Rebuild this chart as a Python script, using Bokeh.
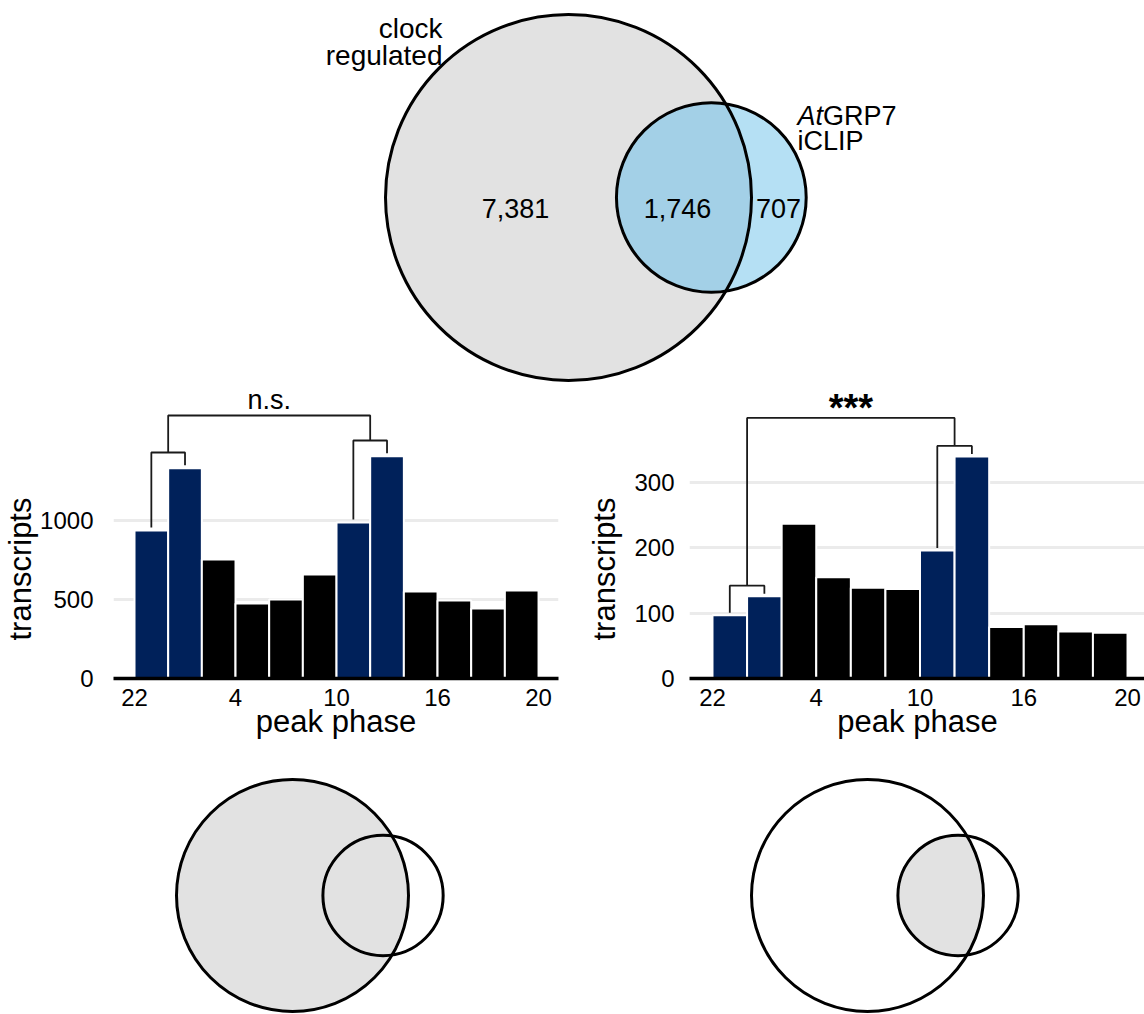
import numpy as np
from bokeh.plotting import figure
from bokeh.layouts import column, row
from bokeh.models import Range1d, FixedTicker, Title
from bokeh.core.properties import value
from bokeh.embed import file_html
from bokeh.resources import INLINE

FONT = "Liberation Sans"

# ---------------- data ----------------
venn_only_clock = 7381
venn_overlap = 1746
venn_only_iclip = 707

phase_bins = [22, 0, 2, 4, 6, 8, 10, 12, 14, 16, 18, 20]
clock_counts = [937, 1331, 753, 474, 500, 658, 987, 1407, 551, 494, 443, 557]
bound_counts = [97, 126, 237, 155, 139, 137, 196, 340, 79, 83, 72, 70]
highlight_bins = [22, 0, 10, 12]
xtick_edges = [0, 3, 6, 9, 12]
xtick_labels = ["22", "4", "10", "16", "20"]
clock_yticks = [0, 500, 1000]
bound_yticks = [0, 100, 200, 300]
clock_sig = "n.s."
bound_sig = "***"

NAVY = "#00215a"
GRAY = "#e2e2e2"
BLUE = "#b5e0f4"
BLUE_DARK = "#a3d0e7"


# ---------------- venn geometry ----------------
def lens_area(r1, r2, d):
    if d >= r1 + r2:
        return 0.0
    if d <= abs(r1 - r2):
        return np.pi * min(r1, r2) ** 2
    a1 = r1 ** 2 * np.arccos((d * d + r1 * r1 - r2 * r2) / (2 * d * r1))
    a2 = r2 ** 2 * np.arccos((d * d + r2 * r2 - r1 * r1) / (2 * d * r2))
    t = 0.5 * np.sqrt((-d + r1 + r2) * (d + r1 - r2) * (d - r1 + r2) * (d + r1 + r2))
    return a1 + a2 - t


def venn_geometry(k):
    n1 = venn_only_clock + venn_overlap
    n2 = venn_only_iclip + venn_overlap
    r1 = k * np.sqrt(n1)
    r2 = k * np.sqrt(n2)
    target = np.pi * k * k * venn_overlap
    lo, hi = abs(r1 - r2) + 1e-9, r1 + r2
    for _ in range(100):
        mid = 0.5 * (lo + hi)
        if lens_area(r1, r2, mid) > target:
            lo = mid
        else:
            hi = mid
    return r1, r2, 0.5 * (lo + hi)


def lens_patch(cx1, cy, r1, cx2, r2):
    d = cx2 - cx1
    a = (d * d + r1 * r1 - r2 * r2) / (2 * d)
    h = np.sqrt(r1 * r1 - a * a)
    t1 = np.arctan2(h, a)
    t2 = np.arctan2(h, d - a)
    th1 = np.linspace(-t1, t1, 160)
    th2 = np.linspace(np.pi - t2, np.pi + t2, 160)
    xs = np.concatenate([cx1 + r1 * np.cos(th1), cx2 + r2 * np.cos(th2)])
    ys = np.concatenate([cy + r1 * np.sin(th1), cy + r2 * np.sin(th2)])
    return xs, ys


def blank(width, height, x0, x1, ytop, ybot):
    p = figure(width=width, height=height, x_range=Range1d(x0, x1), y_range=Range1d(ybot, ytop),
               x_axis_location=None, y_axis_location=None, toolbar_location=None,
               output_backend="svg", min_border=0)
    p.outline_line_color = None
    p.grid.visible = False
    p.background_fill_color = "white"
    p.border_fill_color = "white"
    return p


def txt(p, x, y, s, size="27px", align="left", style="normal"):
    p.text(x=[x], y=[y], text=[s], text_font=value(FONT), text_font_size=size,
           text_align=align, text_baseline="alphabetic", text_color="black",
           text_font_style=style)


# ---------------- top venn ----------------
pv = blank(1144, 384, 0, 1144, 0, 384)
K_TOP = 183 / np.sqrt(venn_only_clock + venn_overlap)
r1, r2, d = venn_geometry(K_TOP)
cx1, cy = 568, 197
cx2 = cx1 + d
pv.circle(x=[cx1], y=[cy], radius=r1, fill_color=GRAY, line_color=None)
pv.circle(x=[cx2], y=[cy], radius=r2, fill_color=BLUE, line_color=None)
lx, ly = lens_patch(cx1, cy, r1, cx2, r2)
pv.patch(lx, ly, fill_color=BLUE_DARK, line_color=None)
pv.circle(x=[cx1, cx2], y=[cy, cy], radius=[r1, r2], fill_color=None,
          line_color="black", line_width=3)
txt(pv, 442, 28, "clock", align="right", size="28px")
txt(pv, 442, 55, "regulated", align="right", size="28px")
txt(pv, 797, 115, "At", style="italic")
txt(pv, 822.5, 115, "GRP7")
txt(pv, 797, 140, "iCLIP")
txt(pv, 515, 208, f"{venn_only_clock:,}", align="center")
txt(pv, 677, 208, f"{venn_overlap:,}", align="center")
txt(pv, 778, 208, f"{venn_only_iclip:,}", align="center")


# ---------------- bar panels ----------------
FRAME_TOP, FRAME_BOTTOM = 384, 678   # page pixels of the plotting frame


def bar_panel(counts, yticks, y_end, x_start, x_end, frame_w, bl, br,
              ytick_standoff, ytitle_standoff, pair_off, top_off, gap,
              sig, sig_size, sig_style, sig_off):
    fh = FRAME_BOTTOM - FRAME_TOP
    p = figure(frame_width=frame_w, frame_height=fh,
               x_range=Range1d(x_start, x_end), y_range=Range1d(0, y_end),
               min_border_left=bl, min_border_right=br, min_border_top=0, min_border_bottom=90,
               toolbar_location=None, output_backend="svg")
    p.outline_line_color = None
    p.background_fill_color = "white"
    p.border_fill_color = "white"
    p.xgrid.visible = False
    p.ygrid.grid_line_color = "#ebebeb"
    p.ygrid.grid_line_width = 3

    xs = [i + 0.5 for i in range(len(counts))]
    colors = [NAVY if b in highlight_bins else "black" for b in phase_bins]
    p.vbar(x=xs, top=counts, bottom=0, width=1, fill_color=colors,
           line_color="white", line_width=2)

    # significance brackets
    s = fh / y_end
    hi_idx = [i for i, b in enumerate(phase_bins) if b in highlight_bins]
    pairs = [(hi_idx[0], hi_idx[1]), (hi_idx[2], hi_idx[3])]
    centers, levels = [], []
    for i, j in pairs:
        xi, xj = i + 0.5, j + 0.5
        lev = max(counts[i], counts[j]) + pair_off / s
        p.line(x=[xi, xi, xj, xj], y=[counts[i] + gap / s, lev, lev, counts[j] + gap / s],
               line_color="#1a1a1a", line_width=1.8)
        centers.append(0.5 * (xi + xj))
        levels.append(lev)
    top = max(levels) + top_off / s
    p.line(x=[centers[0], centers[0], centers[1], centers[1]],
           y=[levels[0], top, top, levels[1]], line_color="#1a1a1a", line_width=1.8)
    p.text(x=[0.5 * (centers[0] + centers[1])], y=[top + sig_off / s], text=[sig],
           text_font=value(FONT), text_font_size=sig_size, text_font_style=sig_style,
           text_align="center", text_baseline="alphabetic", text_color="black")

    # axes
    xa = p.xaxis[0]
    xa.ticker = FixedTicker(ticks=xtick_edges)
    xa.major_label_overrides = {e: l for e, l in zip(xtick_edges, xtick_labels)}
    xa.axis_line_color = "black"
    xa.axis_line_width = 3.5
    xa.major_tick_line_color = None
    xa.minor_tick_line_color = None
    xa.major_tick_out = 0
    xa.major_tick_in = 0
    xa.major_label_standoff = 10
    xa.major_label_text_font = FONT
    xa.major_label_text_font_size = "24px"
    xa.major_label_text_color = "black"
    xa.axis_label = "peak phase"
    xa.axis_label_text_font = FONT
    xa.axis_label_text_font_size = "31px"
    xa.axis_label_text_font_style = "normal"
    xa.axis_label_text_color = "black"
    xa.axis_label_standoff = -5

    ya = p.yaxis[0]
    ya.ticker = FixedTicker(ticks=yticks)
    ya.axis_line_color = None
    ya.major_tick_line_color = None
    ya.minor_tick_line_color = None
    ya.major_tick_out = 0
    ya.major_tick_in = 0
    ya.major_label_standoff = ytick_standoff
    ya.major_label_text_font = FONT
    ya.major_label_text_font_size = "24px"
    ya.major_label_text_color = "black"

    # y-axis title, centred on the bar area (as in the reference) rather than the frame
    p.add_layout(Title(text="transcripts", align="left", offset=FRAME_BOTTOM - 640,
                       standoff=ytitle_standoff, text_font=FONT, text_font_size="31px",
                       text_font_style="normal", text_color="black"), "left")
    return p


pl = bar_panel(clock_counts, clock_yticks, 294 / 0.158, -0.624, 12.593, 445, 112, 15,
               20, 0, 15.7, 25, 3, clock_sig, "27px", "normal", 15)
pr = bar_panel(bound_counts, bound_yticks, 294 / 0.6533, -0.665, 12.52, 456, 116, 0,
               15, 20, 10.5, 28, 2.5, bound_sig, "38px", "bold", 10)

# ---------------- bottom venns ----------------
pb = blank(1144, 246, 0, 1144, 768, 1014)
K_BOT = 116 / np.sqrt(venn_only_clock + venn_overlap)
b1, b2, bd = venn_geometry(K_BOT)
byc = 895
# left: whole clock-regulated set shaded
lc1 = 292
pb.circle(x=[lc1], y=[byc], radius=b1, fill_color=GRAY, line_color=None)
pb.circle(x=[lc1, lc1 + bd], y=[byc, byc], radius=[b1, b2], fill_color=None,
          line_color="black", line_width=3)
# right: only the overlap shaded
rc1 = 867
bx, by = lens_patch(rc1, byc, b1, rc1 + bd, b2)
pb.patch(bx, by, fill_color=GRAY, line_color=None)
pb.circle(x=[rc1, rc1 + bd], y=[byc, byc], radius=[b1, b2], fill_color=None,
          line_color="black", line_width=3)

layout = column(pv, row(pl, pr), pb)
open("out.html", "w").write(file_html(layout, INLINE))
